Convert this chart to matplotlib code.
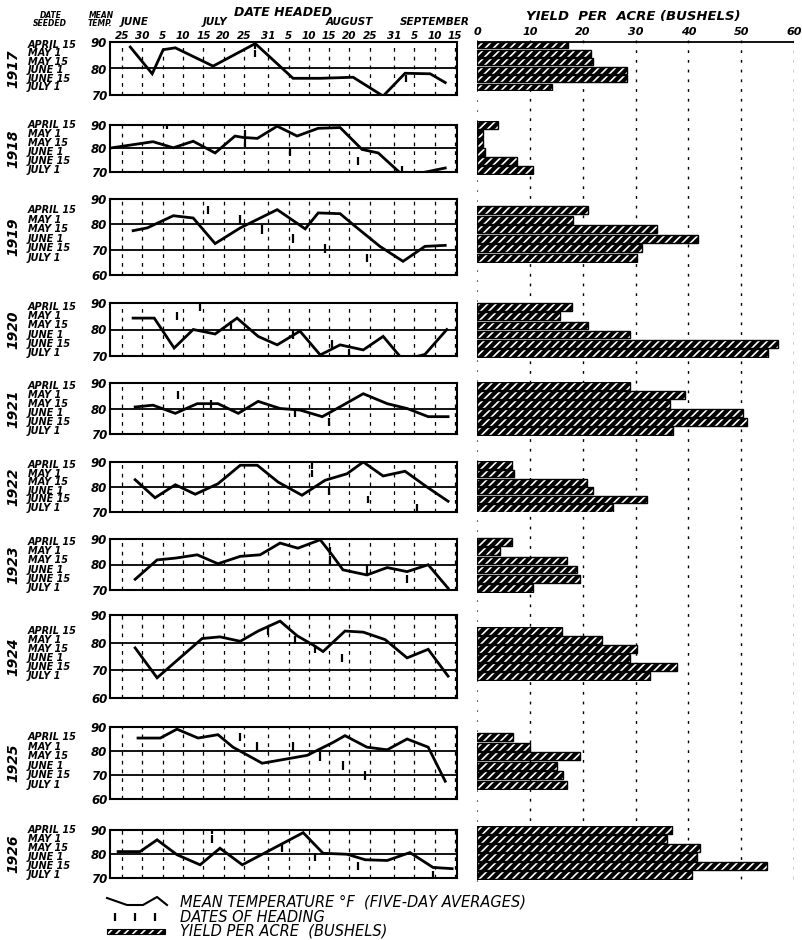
import matplotlib.pyplot as plt
from matplotlib.transforms import blended_transform_factory as blend

plt.rcParams['font.family'] = 'DejaVu Sans'
plt.rcParams['hatch.linewidth'] = 1.2

W, H = 802, 940

years = ['1917', '1918', '1919', '1920', '1921', '1922', '1923', '1924', '1925', '1926']
seed_dates = ['APRIL 15', 'MAY 1', 'MAY 15', 'JUNE 1', 'JUNE 15', 'JULY 1']

# date axis: days counted from June 1
tick_days = [24, 29, 34, 39, 44, 49, 54, 60, 65, 70, 75, 80, 85, 91, 96, 101, 106]
tick_labels = ['25', '30', '5', '10', '15', '20', '25', '31', '5', '10', '15', '20', '25', '31', '5', '10', '15']
months = ['JUNE', 'JULY', 'AUGUST', 'SEPTEMBER']
month_days = [27, 47, 80, 101]
bushel_ticks = [0, 10, 20, 30, 40, 50, 60]

# five-day mean temperatures (deg F)
days_1917 = [26.0, 31.4, 34.1, 37.1, 46.4, 56.8, 66.1, 72.8, 80.9, 88.3, 93.7, 99.9, 103.6]
temp_1917 = [88.1, 78.0, 87.1, 87.8, 80.9, 89.4, 76.3, 76.3, 76.7, 69.6, 78.2, 78.0, 74.7]
days_1918 = [21.5, 31.6, 36.6, 41.5, 46.9, 51.8, 53.8, 57.3, 62.2, 67.1, 72.3, 77.7, 83.1, 87.1, 93.2, 97.4, 103.6]
temp_1918 = [80.3, 82.9, 80.3, 83.1, 78.1, 85.3, 84.7, 84.3, 89.5, 85.3, 88.6, 88.9, 79.6, 78.1, 68.5, 69.5, 71.7]
days_1919 = [26.7, 30.2, 36.6, 41.5, 46.9, 53.1, 62.2, 69.1, 72.3, 77.7, 80.9, 87.5, 93.2, 98.6, 103.6]
temp_1919 = [77.5, 78.6, 83.4, 82.5, 72.4, 78.6, 85.8, 78.2, 84.5, 84.2, 79.9, 71.3, 65.4, 71.3, 71.7]
days_1920 = [26.7, 31.9, 36.8, 41.5, 46.9, 52.3, 57.5, 62.2, 67.8, 72.8, 77.7, 83.4, 88.3, 93.2, 98.6, 104.0]
temp_1920 = [84.3, 84.3, 73.0, 80.0, 78.3, 84.3, 77.4, 74.2, 79.4, 70.4, 74.2, 72.3, 77.4, 68.5, 70.6, 80.0]
days_1921 = [27.2, 31.6, 37.1, 42.5, 47.6, 52.6, 57.5, 62.9, 67.8, 73.3, 78.4, 83.4, 89.3, 94.2, 99.4, 104.3]
temp_1921 = [80.6, 81.3, 78.1, 81.9, 81.9, 78.1, 82.8, 80.0, 79.4, 76.8, 81.3, 85.8, 81.9, 80.0, 76.8, 76.8]
days_1922 = [27.2, 32.1, 37.1, 42.0, 47.6, 53.1, 57.3, 62.4, 68.3, 74.0, 79.4, 83.4, 88.3, 93.7, 99.1, 104.3]
temp_1922 = [82.9, 75.7, 80.9, 77.1, 81.3, 88.7, 88.7, 82.0, 76.7, 82.7, 85.3, 90.0, 84.4, 86.3, 80.0, 74.3]
days_1923 = [27.2, 32.6, 37.1, 42.5, 47.6, 53.1, 58.0, 62.9, 67.3, 72.8, 75.7, 78.4, 84.3, 89.3, 94.2, 99.4, 104.3]
temp_1923 = [74.2, 81.8, 82.5, 83.8, 80.3, 83.2, 83.8, 88.4, 86.4, 89.7, 83.8, 77.9, 75.9, 78.8, 77.2, 79.9, 70.7]
days_1924 = [27.2, 32.6, 43.7, 48.1, 53.1, 57.5, 62.9, 67.1, 71.0, 73.5, 78.9, 83.4, 88.8, 94.2, 99.4, 104.3]
temp_1924 = [78.1, 67.3, 81.5, 82.1, 80.5, 84.2, 87.8, 82.5, 79.2, 76.8, 84.2, 83.8, 81.1, 74.5, 77.6, 67.9]
days_1925 = [27.9, 33.4, 37.5, 42.7, 47.6, 51.3, 58.5, 69.6, 76.0, 78.9, 84.3, 89.3, 94.2, 99.4, 103.6]
temp_1925 = [85.4, 85.4, 89.1, 85.4, 86.8, 81.6, 74.9, 78.2, 83.6, 86.4, 81.6, 80.5, 85.0, 81.6, 67.4]
days_1926 = [23.0, 28.4, 32.6, 37.5, 43.2, 48.1, 53.6, 68.6, 73.5, 79.4, 83.9, 89.3, 94.9, 100.6, 105.3]
temp_1926 = [81.0, 81.0, 85.9, 79.7, 75.5, 82.4, 75.5, 88.9, 80.3, 79.9, 77.6, 77.3, 80.6, 74.4, 73.9]

# yield per acre (bushels), one value per seeding date
yield_1917 = [17.2, 21.6, 22.0, 28.4, 28.4, 14.2]
yield_1918 = [4.0, 1.1, 1.1, 1.5, 7.6, 10.6]
yield_1919 = [21.0, 18.2, 34.1, 41.9, 31.2, 30.3]
yield_1920 = [18.0, 15.7, 21.0, 29.0, 57.0, 55.1]
yield_1921 = [29.0, 39.4, 36.6, 50.4, 51.1, 37.1]
yield_1922 = [6.6, 7.0, 20.8, 22.0, 32.2, 25.8]
yield_1923 = [6.6, 4.4, 17.0, 18.9, 19.5, 10.6]
yield_1924 = [16.1, 23.7, 30.3, 29.0, 37.9, 32.8]
yield_1925 = [6.8, 10.0, 19.5, 15.2, 16.3, 17.0]
yield_1926 = [36.9, 36.0, 42.2, 41.7, 54.9, 40.7]

# dates of heading: (day, seeding row)
heads_1917 = [(56.8, 0), (56.8, 1), (94.0, 4)]
heads_1918 = [(35.1, 0), (54.3, 1), (54.3, 2), (65.4, 3), (82.1, 4), (93.0, 5)]
heads_1919 = [(45.2, 0), (53.1, 1), (58.5, 2), (66.1, 3), (74.0, 4), (84.3, 5)]
heads_1920 = [(43.2, 0), (37.5, 1), (50.8, 2), (66.0, 3), (75.7, 4), (80.0, 5)]
heads_1921 = [(37.8, 1), (46.0, 2), (66.6, 3), (75.0, 4)]
heads_1922 = [(70.8, 0), (70.8, 1), (75.0, 3), (84.6, 4), (96.7, 5)]
heads_1923 = [(75.2, 1), (75.2, 2), (84.3, 3), (94.2, 4)]
heads_1924 = [(60.0, 0), (66.6, 1), (71.5, 2), (78.2, 3)]
heads_1925 = [(53.1, 0), (57.3, 1), (66.1, 1), (72.8, 2), (78.4, 3), (83.9, 4)]
heads_1926 = [(46.2, 0), (46.2, 1), (63.4, 2), (71.5, 3), (82.1, 4), (100.6, 5)]

all_days = [days_1917, days_1918, days_1919, days_1920, days_1921, days_1922, days_1923, days_1924, days_1925, days_1926]
all_temp = [temp_1917, temp_1918, temp_1919, temp_1920, temp_1921, temp_1922, temp_1923, temp_1924, temp_1925, temp_1926]
all_yield = [yield_1917, yield_1918, yield_1919, yield_1920, yield_1921, yield_1922, yield_1923, yield_1924, yield_1925, yield_1926]
all_heads = [heads_1917, heads_1918, heads_1919, heads_1920, heads_1921, heads_1922, heads_1923, heads_1924, heads_1925, heads_1926]

# panel layout in pixels
panel_top = [42, 125, 199, 303, 383, 462, 539, 615, 727, 830]
panel_bot = [95, 172, 275, 356, 434, 512, 590, 698, 799, 878]
panel_low = [70, 70, 60, 70, 70, 70, 70, 60, 60, 70]
row_first = [45, 125, 210, 307, 386, 465, 542, 631, 737, 830]
row_last = [87, 170, 258, 353, 431, 508, 588, 676, 785, 875]

fig = plt.figure(figsize=(W / 100, H / 100), dpi=100)


def px_axes(x0, y0, x1, y1):
    return fig.add_axes([x0 / W, 1 - y1 / H, (x1 - x0) / W, (y1 - y0) / H])


lab = dict(style='italic', weight='bold', color='k')

# right column: bushel grid
axg = px_axes(477, 0, 794, 900)
axg.set_xlim(0, 60)
axg.set_ylim(900, 0)
axg.axis('off')
axg.vlines(bushel_ticks[1:], 40, 885, color='k', lw=1.0, ls=(0, (2, 5)))
axg.vlines(0, 40, 885, color='k', lw=0.8, ls=(0, (1, 8)))
axg.hlines(42, 0, 60, color='k', lw=1.3)
for b in bushel_ticks:
    axg.text(b, 37, str(b), ha='center', va='bottom', fontsize=8, **lab)
axg.text(29.5, 23, 'YIELD  PER  ACRE (BUSHELS)', ha='center', va='bottom', fontsize=9.5, **lab)

for i, yr in enumerate(years):
    lo = panel_low[i]
    ax = px_axes(110, panel_top[i], 457, panel_bot[i])
    for d in tick_days:
        ax.axvline(d, color='k', lw=0.9, ls=(0, (3, 4)))
    ax.axhline(80, color='k', lw=1.3)
    if lo == 60:
        ax.axhline(70, color='k', lw=1.3)
    ax.plot(all_days[i], all_temp[i], color='k', lw=2.0, solid_joinstyle='miter')
    ax.set_xlim(21, 106.5)
    ax.set_ylim(lo, 90)
    ax.set_xticks([])
    ax.set_yticks(range(lo, 91, 10))
    ax.set_yticklabels([str(v) for v in range(lo, 91, 10)], fontsize=8.5, style='italic', weight='bold')
    ax.tick_params(axis='y', length=0, pad=2)
    for s in ax.spines.values():
        s.set_linewidth(1.5)

    # seeding rows / bars
    sp = (row_last[i] - row_first[i]) / 5
    axb = px_axes(477, row_first[i] - sp / 2, 794, row_last[i] + sp / 2)
    axb.set_xlim(0, 60)
    axb.set_ylim(5.5, -0.5)
    axb.axis('off')
    rows = range(len(seed_dates))
    axb.barh(rows, all_yield[i], height=0.82, color='k', edgecolor='white', hatch='////', lw=0)
    axb.barh(rows, all_yield[i], height=0.82, fill=False, edgecolor='k', lw=1.0)

    tr = blend(fig.transFigure, axb.transData)
    for r, s in enumerate(seed_dates):
        fig.text(28 / W, r, s, transform=tr, ha='left', va='center', fontsize=7, **lab)

    trh = blend(ax.transData, axb.transData)
    hd = [h[0] for h in all_heads[i]]
    hr = [h[1] for h in all_heads[i]]
    ax.vlines(hd, [r - 0.45 for r in hr], [r + 0.45 for r in hr], transform=trh, color='k', lw=1.6)
    ax.set_xlim(21, 106.5)
    ax.set_ylim(lo, 90)

    yc = 1 - (panel_top[i] + panel_bot[i]) / 2 / H
    fig.text(13 / W, yc, yr, rotation=90, ha='center', va='center', fontsize=10, **lab)

    if i == 0:
        ax.xaxis.tick_top()
        ax.set_xticks(tick_days)
        ax.set_xticklabels(tick_labels, fontsize=7.5, style='italic', weight='bold')
        ax.tick_params(axis='x', length=0, pad=1)
        trm = blend(ax.transData, ax.transAxes)
        for m, d in zip(months, month_days):
            ax.text(d, 1.28, m, transform=trm, ha='center', va='bottom', fontsize=7.5, **lab)

fig.text(283 / W, 1 - 12 / H, 'DATE HEADED', ha='center', va='center', fontsize=9, **lab)
fig.text(51 / W, 1 - 15 / H, 'DATE', ha='center', va='center', fontsize=5.5, **lab)
fig.text(50 / W, 1 - 24 / H, 'SEEDED', ha='center', va='center', fontsize=5.5, **lab)
fig.text(101 / W, 1 - 15 / H, 'MEAN', ha='center', va='center', fontsize=5.5, **lab)
fig.text(100 / W, 1 - 24 / H, 'TEMP.', ha='center', va='center', fontsize=5.5, **lab)

# legend
axl = px_axes(100, 890, 800, 940)
axl.set_xlim(100, 800)
axl.set_ylim(940, 890)
axl.axis('off')
leg_x = [107, 127, 143, 157, 167]
leg_y = [898, 905, 905, 897, 905]
axl.plot(leg_x, leg_y, color='k', lw=1.5)
axl.vlines([115, 135, 155], 913, 921, color='k', lw=1.6)
axl.barh([931], [58], left=107, height=5, color='k', edgecolor='white', hatch='////', lw=0)
axl.barh([931], [58], left=107, height=5, fill=False, edgecolor='k', lw=0.8)
leg = dict(style='italic', color='k', fontsize=10.5, ha='left', va='center')
axl.text(180, 902, 'MEAN TEMPERATURE °F  (FIVE-DAY AVERAGES)', **leg)
axl.text(180, 917, 'DATES OF HEADING', **leg)
axl.text(180, 931, 'YIELD PER ACRE  (BUSHELS)', **leg)

fig.savefig('out.png', dpi=100)
